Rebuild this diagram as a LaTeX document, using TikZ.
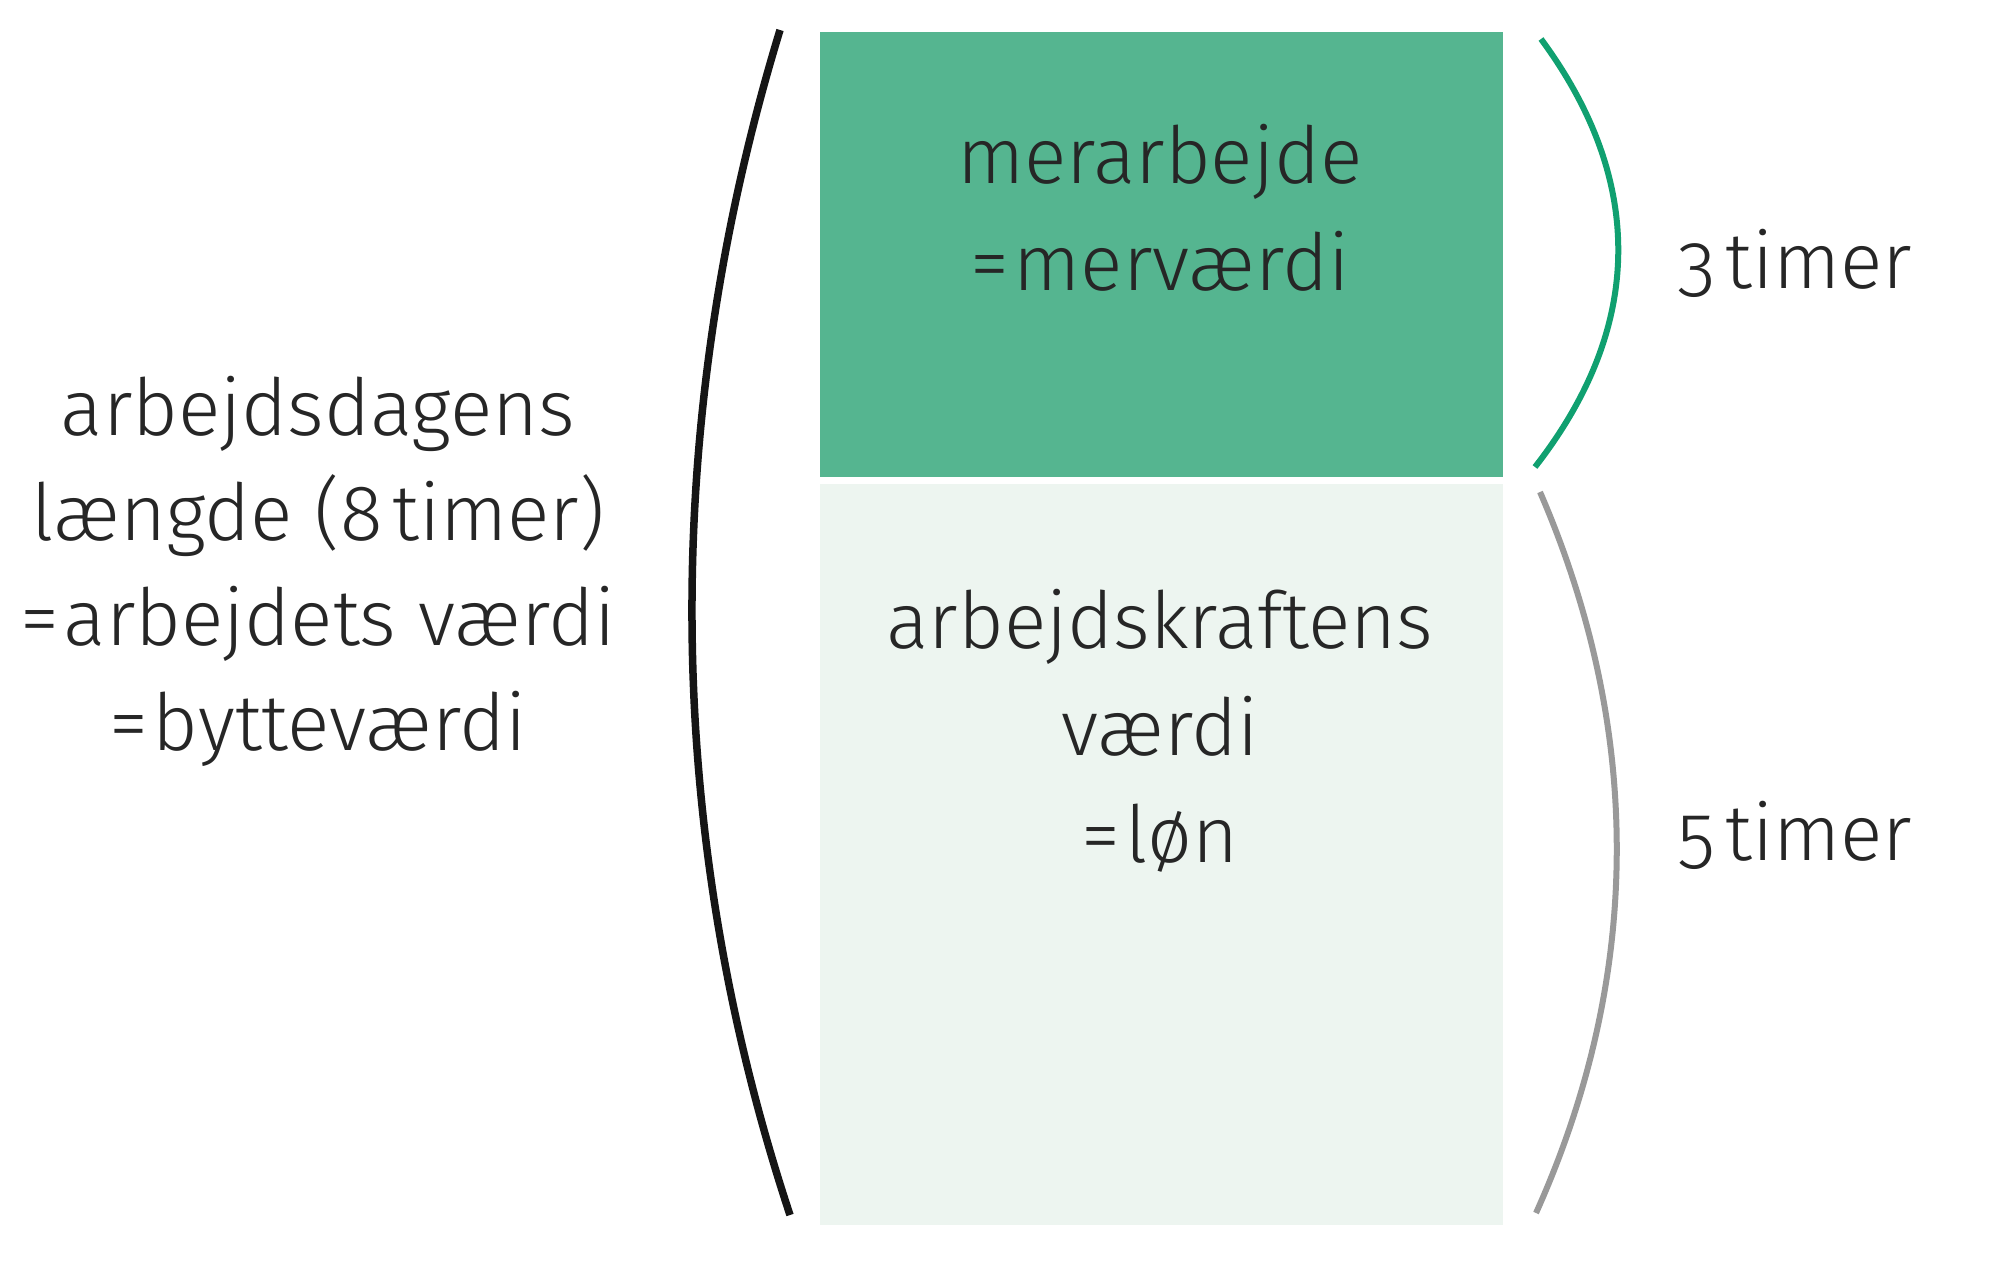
\documentclass[tikz,border=0pt]{standalone}
\usepackage{fontspec}
\setmainfont{Fira Sans}[UprightFont={* Light}, Numbers=OldStyle]
\definecolor{boxgreen}{HTML}{55B590}
\definecolor{boxlight}{HTML}{EDF5F0}
\definecolor{arcgreen}{HTML}{10A070}
\definecolor{arcgray}{HTML}{999999}
\definecolor{arcblack}{HTML}{151515}
\definecolor{txt}{HTML}{262626}
\tikzset{
  lbl/.style={inner sep=0pt, anchor=base, text=txt, font=\fontsize{22.4}{26}\selectfont},
  brace/.style={line width=6pt*0.2845, line cap=butt},
}
\begin{document}
\begin{tikzpicture}[x=0.01cm, y=-0.01cm]
\useasboundingbox (0,0) rectangle (2000,1284);
\fill[white] (0,0) rectangle (2000,1284);
% boxes
\node[fill=boxgreen, inner sep=0pt, minimum width=683*0.01cm, minimum height=445*0.01cm, anchor=north west] (top) at (819,31) {};
\node[fill=boxlight, inner sep=0pt, minimum width=683*0.01cm, minimum height=741*0.01cm, anchor=north west] (bot) at (819,483) {};
% braces
\coordinate (bA) at (780,30);
\coordinate (bB) at (790,1215);
\draw[brace, arcblack, line width=7.5pt*0.2845] (bA) .. controls (661,420) and (661,825) .. (bB);
\coordinate (gA) at (1541,39);
\coordinate (gB) at (1535,467);
\draw[brace, arcgreen] (gA) .. controls (1645,180) and (1645,326) .. (gB);
\coordinate (hA) at (1540,492);
\coordinate (hB) at (1536,1213);
\draw[brace, arcgray] (hA) .. controls (1643,730) and (1643,975) .. (hB);
% left text
\node[lbl] (l1) at (318,435) {arbejdsdagens};
\node[lbl] (l2) at (318,540) {længde (8\kern0.12em timer)};
\node[lbl] (l3) at (318,645) {=\kern0.06em arbejdets værdi};
\node[lbl] (l4) at (318,750) {=\kern0.06em bytteværdi};
% green box text
\node[lbl] (m1) at (1160,183) {merarbejde};
\node[lbl] (m2) at (1160,290) {=\kern0.06em merværdi};
% light box text
\node[lbl] (k1) at (1160,648) {arbejdskraftens};
\node[lbl] (k2) at (1160,755) {værdi};
\node[lbl] (k3) at (1160,862) {=\kern0.06em løn};
% right labels
\node[lbl, anchor=base west] (t3) at (1677,288) {3\kern0.12em timer};
\node[lbl, anchor=base west] (t5) at (1677,860) {5\kern0.12em timer};
\end{tikzpicture}
\end{document}
